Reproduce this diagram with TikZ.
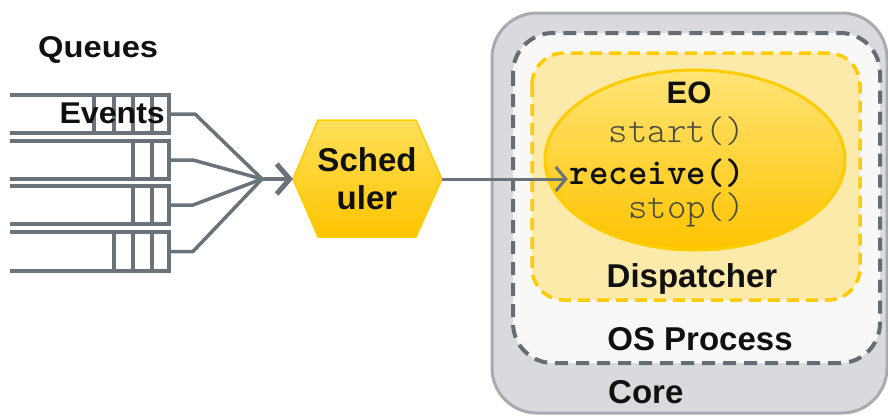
\documentclass[tikz,border=0pt]{standalone}
\usepackage{fontspec}
\usepackage{graphicx}
\setmainfont{Liberation Sans}
\setmonofont{Latin Modern Mono Light}
\usetikzlibrary{arrows.meta}

\definecolor{coreFill}{HTML}{D9DADD}
\definecolor{coreLine}{HTML}{A7AAAF}
\definecolor{procFill}{HTML}{F8F8F8}
\definecolor{procLine}{HTML}{646C74}
\definecolor{dispFill}{HTML}{FBEAA9}
\definecolor{dispLine}{HTML}{FFCB05}
\definecolor{eoTop}{HTML}{FFE476}
\definecolor{eoBottom}{HTML}{FFC300}
\definecolor{eoLine}{HTML}{FFCC00}
\definecolor{hexTop}{HTML}{FFE05A}
\definecolor{hexBottom}{HTML}{FFC400}
\definecolor{wire}{HTML}{6B737A}
\definecolor{ink}{HTML}{101010}
\definecolor{dimInk}{HTML}{4B4B3C}

\tikzset{
  queue/.style={draw=wire, line width=3.5pt},
  feed/.style={draw=wire, line width=3.5pt, line join=round},
  label/.style={inner sep=0pt, text=ink, font=\fontsize{33}{38}\selectfont\bfseries},
  code/.style={inner sep=0pt, font=\fontsize{37}{40}\selectfont\ttfamily},
}

\begin{document}
\begin{tikzpicture}[x=1pt,y=-1pt]
\useasboundingbox (0,0) rectangle (888,416);

% Core, OS process and dispatcher containers
\draw[fill=coreFill, draw=coreLine, line width=3pt, rounded corners=45pt]
  (492,13) rectangle (887,413);
\draw[fill=procFill, draw=procLine, line width=4pt, dash pattern=on 13pt off 8pt,
      rounded corners=40pt]
  (513,33) rectangle (880,363);
\draw[fill=dispFill, draw=dispLine, line width=3.5pt, dash pattern=on 12pt off 7pt,
      rounded corners=32pt]
  (532,53) rectangle (860,300);

% Execution object
\draw[top color=eoTop, bottom color=eoBottom, draw=eoLine, line width=3pt]
  (695,160) ellipse [x radius=150, y radius=90];

\node[label, font=\fontsize{31}{36}\selectfont\bfseries, anchor=base] (eo) at (689,103) {EO};
\node[code, text=dimInk, anchor=base east] (start) at (745,142) {start()};
\node[code, text=ink, font=\fontsize{37}{40}\selectfont\ttfamily\bfseries, anchor=base east]
  (recv) at (745,184) {receive()};
\node[code, text=dimInk, anchor=base east] (stop) at (745,218) {stop()};

\node[label, anchor=base] (disp) at (692,287) {Dispatcher};
\node[label, anchor=base] (proc) at (700,350) {OS Process};
\node[label, anchor=base west] (core) at (608,403) {Core};

% Scheduler hexagon
\coordinate (sched-w) at (293,179);
\coordinate (sched-e) at (442,179);
\draw[top color=hexTop, bottom color=hexBottom, draw=eoLine, line width=1.5pt, line join=round]
  (sched-w) -- (318,120) -- (416,120) -- (sched-e) -- (416,237) -- (318,237) -- cycle;
\node[label, align=center] (sched) at (367,179) {Sched\\uler};

% Event queues
\node[label, font=\fontsize{30}{34}\selectfont\bfseries, anchor=base west] (queues)
  at (38,57) {\scalebox{1.09}[1]{Queues}};
\foreach \t/\b/\s [count=\i] in {95/133/{94,114,133,152}, 141/179/{133,152},
                                 186/224/{133,152}, 232/271/{114,133,152}} {
  \draw[queue] (10,\t) -- (169,\t) -- (169,\b) -- (10,\b);
  \foreach \x in \s \draw[queue] (\x,\t) -- (\x,\b);
  \coordinate (q\i) at (169,{(\t+\b)/2});
}
\node[label, font=\fontsize{30}{34}\selectfont\bfseries, anchor=base east] (events)
  at (165,123) {\scalebox{1.07}[1]{Events}};

% Queues feeding the scheduler
\coordinate (hub) at (262,179);
\foreach \i/\d in {1/26, 2/24, 3/24, 4/24}
  \draw[feed] (q\i) -- ++(\d,0) -- (hub);
\draw[feed, -{Straight Barb[length=13pt, width=30pt, line width=5pt]}]
  (hub) -- (sched-w);

% Scheduler dispatching to the EO
\draw[draw=wire, line width=3pt, -{Straight Barb[length=10pt, width=24pt, line width=3pt]}]
  (sched-e) -- ([xshift=-2pt]sched-e -| recv.west);
\end{tikzpicture}
\end{document}
